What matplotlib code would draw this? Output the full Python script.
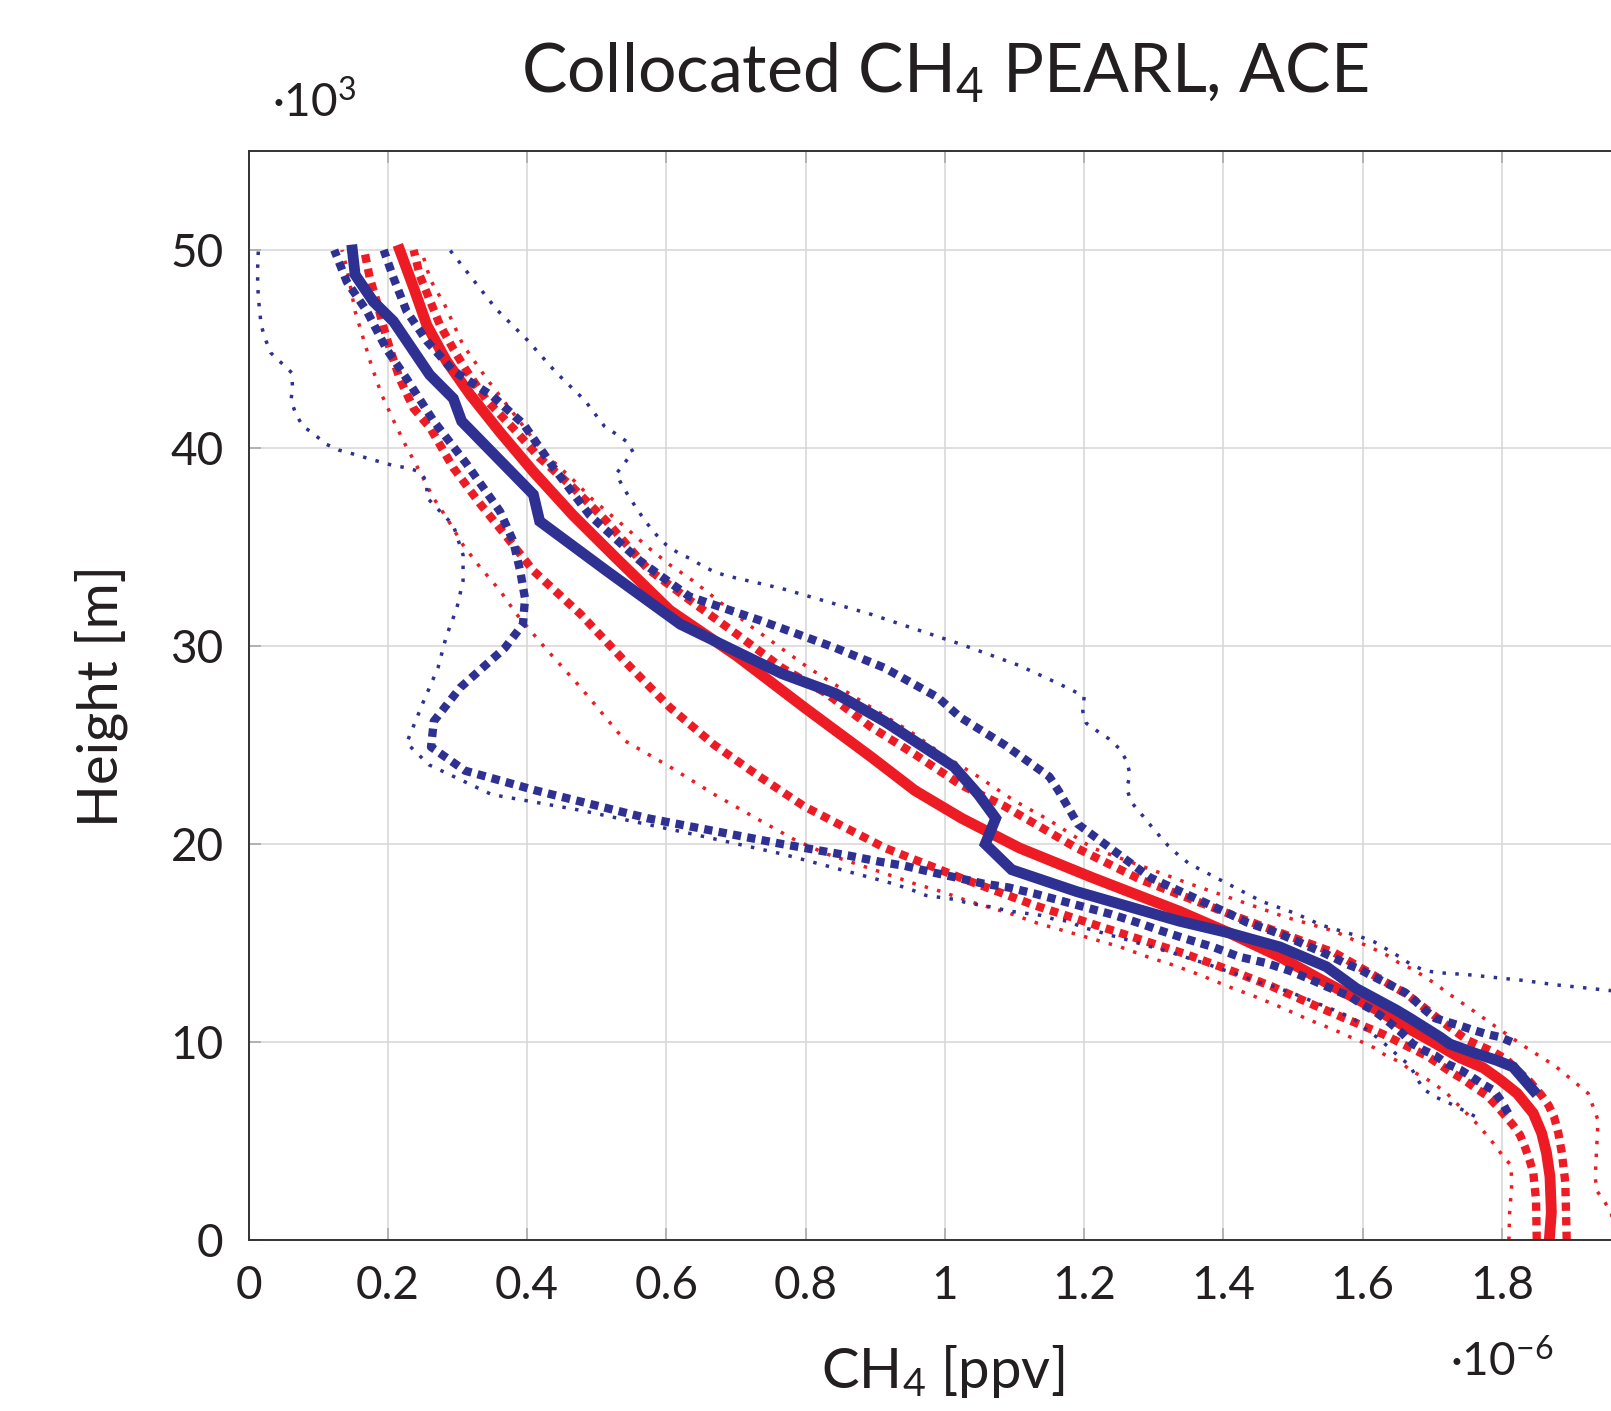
import matplotlib
matplotlib.use('Agg')
import matplotlib.pyplot as plt

# ---------------- data (x in 1e-6 ppv, z in 1e3 m) ----------------
x_ticks = [0, 0.2, 0.4, 0.6, 0.8, 1.0, 1.2, 1.4, 1.6, 1.8]
x_tick_labels = ['0', '0.2', '0.4', '0.6', '0.8', '1', '1.2', '1.4', '1.6', '1.8']
y_ticks = [0, 10, 20, 30, 40, 50]
y_tick_labels = ['0', '10', '20', '30', '40', '50']

# PEARL mean (red solid)
pearl_mean_z = [0, 1.4, 3.2, 4.4, 5.4, 6.4, 7.4, 8.1, 8.7, 9.2, 9.9, 10.8, 11.6, 12.9, 14.3,
                15.5, 16.6, 18.3, 19.8, 21.3, 22.7, 24.4, 26.9, 29.5, 31.8, 34.4, 36.6, 38.8,
                40.8, 42.7, 44.4, 46.2, 48.1, 50]
pearl_mean_x = [1.868, 1.871, 1.869, 1.864, 1.857, 1.845, 1.822, 1.797, 1.773, 1.74, 1.706,
                1.66, 1.622, 1.553, 1.481, 1.409, 1.337, 1.212, 1.107, 1.024, 0.957, 0.894,
                0.798, 0.701, 0.605, 0.529, 0.466, 0.409, 0.361, 0.318, 0.284, 0.256, 0.237,
                0.217]

# PEARL mean + std (red dashed, right)
pearl_hi_z = [0, 2.9, 4.4, 5.4, 6.2, 6.8, 7.3, 8.0, 8.6, 9.1, 9.5, 10.1, 11.0, 12.4, 14.5,
              16.3, 18.2, 19.8, 21.9, 23.0, 24.5, 25.9, 27.6, 28.9, 30.6, 32.2, 33.9, 36.3,
              38.0, 39.5, 41.0, 42.4, 43.9, 45.0, 46.2, 47.4, 48.7, 50]
pearl_hi_x = [1.893, 1.891, 1.886, 1.881, 1.875, 1.867, 1.857, 1.84, 1.821, 1.807, 1.788,
              1.75, 1.715, 1.664, 1.56, 1.421, 1.281, 1.189, 1.086, 1.022, 0.958, 0.894,
              0.83, 0.766, 0.701, 0.638, 0.573, 0.514, 0.466, 0.418, 0.38, 0.342, 0.313,
              0.294, 0.275, 0.261, 0.246, 0.237]

# PEARL mean - std (red dashed, left)
pearl_lo_z = [0, 2.0, 3.4, 4.0, 4.7, 5.3, 5.8, 6.3, 6.8, 7.3, 7.7, 8.1, 8.5, 8.9, 9.3, 9.8,
              10.4, 11.2, 12.0, 12.8, 13.5, 14.45, 16.9, 18.3, 19.8, 20.7, 21.9, 23.4, 25.0,
              26.9, 29.2, 31.6, 33.8, 35.5, 37.2, 39.0, 41.0, 42.0, 43.5, 45.0, 46.2, 47.4,
              48.6, 50]
pearl_lo_x = [1.85, 1.849, 1.845, 1.84, 1.833, 1.826, 1.816, 1.804, 1.792, 1.778, 1.761,
              1.745, 1.726, 1.709, 1.692, 1.663, 1.629, 1.574, 1.521, 1.47, 1.419, 1.345,
              1.129, 1.022, 0.914, 0.864, 0.798, 0.734, 0.669, 0.605, 0.541, 0.477, 0.409,
              0.371, 0.332, 0.294, 0.261, 0.237, 0.217, 0.203, 0.193, 0.184, 0.174, 0.166]

# PEARL max (red dotted, right)
pearl_max_z = [0, 1.35, 1.9, 2.5, 3.2, 4.6, 6.05, 7.4, 7.9, 8.8, 9.6, 10.0, 10.8, 11.7, 12.5,
               12.9, 13.3, 13.7, 14.0, 14.4, 14.7, 15.0, 15.6, 16.3, 18.0, 19.8, 21.2, 22.2,
               23.4, 24.5, 25.5, 26.9, 28.9, 31.0, 33.3, 34.1, 35.0, 36.0, 37.4, 38.4, 39.4,
               39.9, 43.4, 44.0, 45.2, 47.2, 48.5, 50]
pearl_max_x = [1.965, 1.957, 1.948, 1.936, 1.934, 1.936, 1.938, 1.924, 1.907, 1.876, 1.84,
               1.823, 1.79, 1.754, 1.721, 1.706, 1.689, 1.67, 1.652, 1.634, 1.616, 1.597,
               1.559, 1.49, 1.351, 1.212, 1.15, 1.099, 1.048, 0.997, 0.958, 0.894, 0.804,
               0.721, 0.638, 0.605, 0.573, 0.541, 0.494, 0.466, 0.435, 0.421, 0.344, 0.332,
               0.308, 0.282, 0.261, 0.248]

# PEARL min (red dotted, left)
pearl_min_z = [0, 1.35, 2.8, 3.8, 4.1, 4.7, 5.3, 5.8, 6.3, 6.9, 7.4, 7.8, 8.2, 8.5, 9.0, 9.3,
               9.7, 10.0, 10.3, 10.6, 11.15, 11.75, 12.3, 12.8, 13.35, 13.85, 14.3, 14.8,
               15.4, 16.0, 16.5, 17.1, 17.6, 18.0, 18.5, 19.5, 20.2, 21.2, 22.5, 23.9, 25.2,
               27.9, 29.9, 31.6, 32.8, 34.0, 35.1, 36.5, 37.5, 38.8, 40.1, 41.4, 42.7, 44.1,
               45.5, 46.9, 48.2, 49.1, 50]
pearl_min_x = [1.81, 1.811, 1.814, 1.813, 1.804, 1.792, 1.778, 1.766, 1.752, 1.735, 1.721,
               1.706, 1.689, 1.672, 1.653, 1.634, 1.617, 1.599, 1.579, 1.56, 1.521, 1.483,
               1.445, 1.407, 1.369, 1.331, 1.291, 1.252, 1.193, 1.133, 1.093, 1.035, 0.995,
               0.956, 0.915, 0.83, 0.785, 0.734, 0.669, 0.605, 0.541, 0.477, 0.426, 0.385,
               0.361, 0.332, 0.308, 0.284, 0.265, 0.246, 0.226, 0.208, 0.191, 0.177, 0.165,
               0.153, 0.146, 0.141, 0.134]

# ACE mean (blue solid)
ace_mean_z = [7.56, 8.74, 9.08, 9.4, 9.9, 10.25, 11.2, 11.6, 12.7, 13.8, 14.8, 15.5, 16.1,
              17.6, 18.7, 20.0, 21.3, 22.5, 23.9, 26.2, 27.6, 28.6, 31.1, 33.8, 36.3, 37.65,
              41.35, 42.5, 43.7, 46.4, 47.4, 48.75, 50]
ace_mean_x = [1.845, 1.816, 1.792, 1.764, 1.725, 1.711, 1.668, 1.649, 1.591, 1.548, 1.481,
              1.409, 1.337, 1.189, 1.096, 1.058, 1.073, 1.048, 1.013, 0.913, 0.843, 0.766,
              0.62, 0.514, 0.418, 0.409, 0.306, 0.294, 0.26, 0.208, 0.179, 0.153, 0.149]

# ACE mean + std (blue dashed, right)
ace_hi_z = [10.0, 10.25, 10.4, 10.6, 10.8, 11.0, 11.2, 11.6, 12.05, 12.5, 12.8, 13.1, 13.4,
            13.7, 13.95, 14.25, 14.55, 14.8, 15.1, 15.35, 15.6, 16.05, 16.5, 18.3, 21.0,
            22.7, 23.4, 25.0, 26.4, 27.4, 28.9, 29.9, 31.3, 32.5, 34.3, 36.6, 39.0, 41.2,
            42.6, 43.9, 45.4, 46.9, 48.6, 50]
ace_hi_x = [1.814, 1.797, 1.778, 1.759, 1.742, 1.723, 1.704, 1.69, 1.676, 1.661, 1.644,
            1.627, 1.61, 1.594, 1.576, 1.559, 1.541, 1.524, 1.505, 1.488, 1.47, 1.433, 1.407,
            1.295, 1.191, 1.163, 1.15, 1.086, 1.022, 0.99, 0.913, 0.843, 0.734, 0.633, 0.562,
            0.49, 0.438, 0.395, 0.351, 0.294, 0.256, 0.227, 0.208, 0.194]

# ACE mean - std (blue dashed, left)
ace_lo_z = [6.4, 6.97, 7.56, 7.9, 8.3, 8.6, 8.9, 9.3, 9.6, 9.9, 10.4, 10.85, 11.2, 11.6,
            11.9, 12.3, 12.8, 13.1, 13.6, 14.0, 14.3, 14.8, 15.2, 15.6, 16.05, 16.45, 16.8,
            17.15, 17.5, 17.8, 18.0, 18.3, 18.6, 18.9, 19.1, 19.4, 20.0, 21.3, 22.7, 23.7,
            24.9, 26.2, 27.9, 29.9, 31.1, 32.4, 33.8, 35.3, 36.8, 39.2, 41.4, 43.5, 45.0,
            46.9, 48.4, 50]
ace_lo_x = [1.809, 1.8, 1.788, 1.771, 1.754, 1.74, 1.721, 1.705, 1.687, 1.672, 1.658, 1.643,
            1.631, 1.615, 1.599, 1.582, 1.548, 1.529, 1.495, 1.46, 1.423, 1.385, 1.347,
            1.312, 1.275, 1.239, 1.202, 1.165, 1.128, 1.092, 1.055, 1.017, 0.978, 0.942,
            0.907, 0.864, 0.766, 0.573, 0.413, 0.311, 0.262, 0.266, 0.304, 0.368, 0.394,
            0.397, 0.39, 0.38, 0.361, 0.313, 0.265, 0.227, 0.198, 0.17, 0.141, 0.123]

# ACE min (blue dotted, left)
ace_min_z = [6.25, 6.6, 6.9, 7.2, 7.6, 8.15, 8.8, 9.3, 9.75, 10.25, 10.7, 11.15, 11.45,
             11.75, 12.0, 12.3, 12.55, 12.8, 13.0, 13.25, 13.5, 13.7, 13.95, 14.15, 14.4,
             14.6, 14.8, 15.0, 15.2, 15.4, 15.6, 15.8, 16.1, 16.2, 16.4, 16.5, 16.6, 16.75,
             16.9, 17.0, 17.2, 17.3, 17.4, 17.65, 17.9, 18.1, 19.5, 20.5, 21.7, 22.5, 24.0,
             25.1, 27.1, 28.9, 30.5, 31.9, 33.3, 34.6, 36.1, 37.5, 38.3, 38.8, 39.0, 39.1,
             39.3, 39.5, 39.7, 39.9, 40.2, 40.7, 41.1, 41.7, 42.4, 43.1, 43.8, 44.3, 44.8,
             45.5, 46.2, 46.9, 47.6, 48.4, 49.1, 50]
ace_min_x = [1.761, 1.742, 1.725, 1.706, 1.688, 1.678, 1.668, 1.651, 1.637, 1.62, 1.603,
             1.588, 1.57, 1.55, 1.531, 1.512, 1.492, 1.473, 1.452, 1.433, 1.414, 1.395,
             1.376, 1.357, 1.336, 1.317, 1.297, 1.277, 1.258, 1.237, 1.218, 1.197, 1.177,
             1.157, 1.137, 1.116, 1.095, 1.075, 1.055, 1.035, 1.014, 0.994, 0.973, 0.955,
             0.934, 0.915, 0.766, 0.638, 0.477, 0.349, 0.259, 0.227, 0.25, 0.272, 0.284,
             0.299, 0.308, 0.308, 0.294, 0.256, 0.256, 0.246, 0.228, 0.209, 0.189, 0.169,
             0.15, 0.129, 0.111, 0.094, 0.078, 0.068, 0.061, 0.063, 0.062, 0.047, 0.032,
             0.024, 0.018, 0.016, 0.014, 0.013, 0.013, 0.014]

# ACE max (blue dotted, right)
ace_max_z = [12.4, 12.6, 12.75, 12.9, 13.1, 13.25, 13.4, 13.5, 13.6, 13.9, 14.3, 14.7,
             15.05, 15.3, 15.5, 15.7, 15.9, 16.2, 16.5, 17.1, 19.0, 19.45, 19.9, 20.5, 21.0,
             21.6, 22.1, 22.8, 23.5, 24.2, 24.8, 25.3, 25.7, 26.1, 26.7, 27.45, 27.8, 28.1,
             28.4, 28.7, 29.0, 30.1, 31.6, 32.9, 33.5, 33.7, 34.0, 34.4, 34.7, 35.1, 35.6,
             36.2, 36.8, 37.4, 38.0, 38.7, 39.2, 39.8, 40.3, 40.7, 41.1, 41.7, 42.4, 43.8,
             45.5, 47.0, 48.7, 50]
ace_max_x = [2.0, 1.955, 1.915, 1.874, 1.833, 1.792, 1.751, 1.709, 1.69, 1.67, 1.653, 1.634,
             1.617, 1.598, 1.579, 1.56, 1.541, 1.522, 1.503, 1.455, 1.351, 1.335, 1.321,
             1.306, 1.294, 1.28, 1.268, 1.261, 1.266, 1.261, 1.251, 1.236, 1.219, 1.203,
             1.198, 1.2, 1.181, 1.163, 1.145, 1.126, 1.108, 1.022, 0.894, 0.766, 0.692,
             0.672, 0.654, 0.635, 0.617, 0.6, 0.586, 0.572, 0.56, 0.549, 0.538, 0.528,
             0.539, 0.552, 0.544, 0.528, 0.511, 0.498, 0.483, 0.442, 0.399, 0.356, 0.318,
             0.289]

# ---------------- style ----------------
RED = '#ED1C24'
BLUE = '#2E3192'
TEXT = '#231F20'

plt.rcParams['font.family'] = ['Lato', 'DejaVu Sans']
plt.rcParams['mathtext.default'] = 'regular'

W, H = 1611, 1411
fig = plt.figure(figsize=(W / 100, H / 100), dpi=100)
ax = fig.add_axes([248.6 / W, 1 - 1240 / H, 1392.6 / W, 1089 / H])
ax.set_xlim(0, 2)
ax.set_ylim(0, 55)
ax.set_xticks(x_ticks)
ax.set_xticklabels(x_tick_labels)
ax.set_yticks(y_ticks)
ax.set_yticklabels(y_tick_labels)
ax.grid(True, color='#d6d6d6', linewidth=1.1)
ax.set_axisbelow(True)
ax.tick_params(direction='in', length=8.5, width=1.1, color='#a6a6a6',
               labelsize=33, pad=18, labelcolor=TEXT, top=True, right=True)
for s in ax.spines.values():
    s.set_color('#333333')
    s.set_linewidth(1.4)

dotted = (0, (1, 2.7))
dashed = (0, (1, 0.75))
LW_DOT, LW_DASH, LW_SOLID = 2.5, 6.0, 7.8

ax.plot(pearl_min_x, pearl_min_z, color=RED, lw=LW_DOT, ls=dotted)
ax.plot(pearl_max_x, pearl_max_z, color=RED, lw=LW_DOT, ls=dotted)
ax.plot(pearl_lo_x, pearl_lo_z, color=RED, lw=LW_DASH, ls=dashed)
ax.plot(pearl_hi_x, pearl_hi_z, color=RED, lw=LW_DASH, ls=dashed)
ax.plot(pearl_mean_x, pearl_mean_z, color=RED, lw=LW_SOLID, solid_joinstyle='miter')
ax.plot(ace_min_x, ace_min_z, color=BLUE, lw=LW_DOT, ls=dotted)
ax.plot(ace_max_x, ace_max_z, color=BLUE, lw=LW_DOT, ls=dotted)
ax.plot(ace_lo_x, ace_lo_z, color=BLUE, lw=LW_DASH, ls=dashed)
ax.plot(ace_hi_x, ace_hi_z, color=BLUE, lw=LW_DASH, ls=dashed)
ax.plot(ace_mean_x, ace_mean_z, color=BLUE, lw=LW_SOLID, solid_joinstyle='miter')

# ---------------- texts ----------------
fig.text(945 / W, 1 - 93 / H, 'Collocated CH$_4$ PEARL, ACE', ha='center',
         va='baseline', fontsize=49, color=TEXT)
fig.text(943 / W, 1 - 1388 / H, 'CH$_4$ [ppv]', ha='center', va='baseline',
         fontsize=40.5, color=TEXT)
fig.text(101 / W, 1 - 696 / H, 'Height [m]', rotation=90, ha='center', va='center',
         fontsize=40.5, color=TEXT)
fig.text(272 / W, 1 - 117 / H, '·10$^{3}$', ha='left', va='baseline',
         fontsize=33, color=TEXT)
fig.text(1450 / W, 1 - 1376 / H, '·10$^{-6}$', ha='left', va='baseline',
         fontsize=33, color=TEXT)

fig.savefig('out.png', dpi=100)
